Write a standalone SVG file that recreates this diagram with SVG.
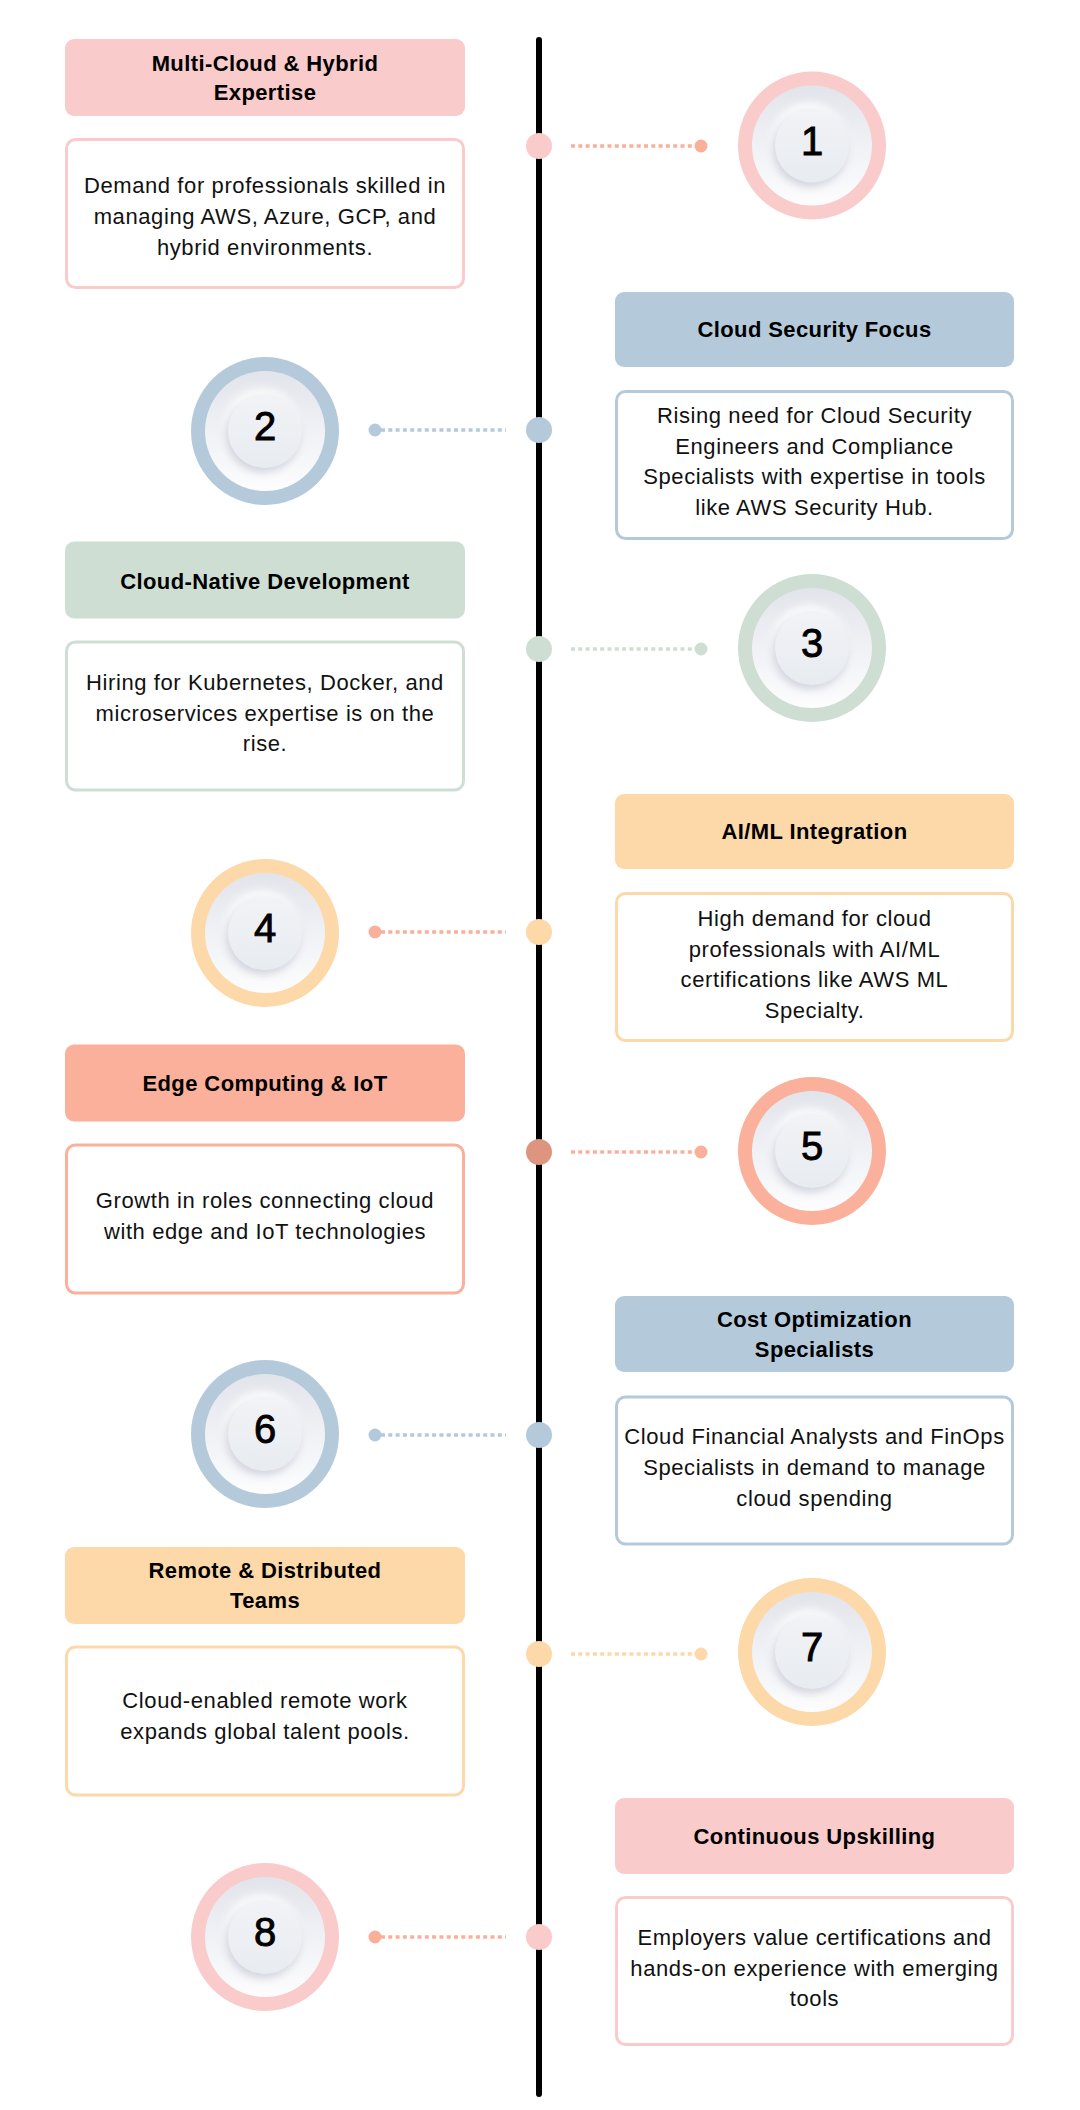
<svg xmlns="http://www.w3.org/2000/svg" width="1080" height="2110" viewBox="0 0 1080 2110">
<defs>
<style>
.title{font-family:"Liberation Sans",Arial,sans-serif;font-weight:bold;font-size:22px;letter-spacing:0.4px;fill:#000;text-anchor:middle}
.body{font-family:"Liberation Sans",Arial,sans-serif;font-size:22px;letter-spacing:0.6px;fill:#111;text-anchor:middle}
.num{font-family:"Liberation Sans",Arial,sans-serif;font-size:40px;fill:#000;stroke:#000;stroke-width:0.9px;text-anchor:middle}
.tb{stroke-width:3;fill:#fff}
.conn{stroke-width:3.5;stroke-dasharray:4 3.3;fill:none}
</style>
<linearGradient id="discGrad" x1="0" y1="0" x2="0" y2="1">
<stop offset="0" stop-color="#E2E4EB"/>
<stop offset="0.45" stop-color="#EEF0F4"/>
<stop offset="1" stop-color="#FDFDFE"/>
</linearGradient>
<linearGradient id="coreGrad" x1="0" y1="0" x2="0" y2="1">
<stop offset="0" stop-color="#F1F3F6"/>
<stop offset="1" stop-color="#E8EBF0"/>
</linearGradient>
<filter id="blur" x="-50%" y="-50%" width="200%" height="200%">
<feGaussianBlur stdDeviation="4"/>
</filter>
<g id="knob">
<circle r="60" fill="url(#discGrad)"/>
<circle cx="-3" cy="-5" r="37" fill="#FFFFFF" filter="url(#blur)"/>
<circle cx="-2" cy="4" r="37" fill="#D0D1DD" filter="url(#blur)"/>
<circle r="37" fill="url(#coreGrad)"/>
</g>
</defs>
<rect width="1080" height="2110" fill="#FFFFFF"/>

<g id="timeline">
<line x1="539" y1="40" x2="539" y2="2094" stroke="#000" stroke-width="6" stroke-linecap="round"/>
</g>

<g id="connectors">
<line class="conn" x1="571" y1="146" x2="696" y2="146" stroke="#F9B09B"/>
<circle cx="701" cy="146" r="6.5" fill="#F9B09B"/>
<line class="conn" x1="381" y1="430" x2="506" y2="430" stroke="#B4CADA"/>
<circle cx="375" cy="430" r="6.5" fill="#B4CADA"/>
<line class="conn" x1="571" y1="649" x2="696" y2="649" stroke="#CEDED3"/>
<circle cx="701" cy="649" r="6.5" fill="#CEDED3"/>
<line class="conn" x1="381" y1="932" x2="506" y2="932" stroke="#F9B09B"/>
<circle cx="375" cy="932" r="6.5" fill="#F9B09B"/>
<line class="conn" x1="571" y1="1152" x2="696" y2="1152" stroke="#F9B09B"/>
<circle cx="701" cy="1152" r="6.5" fill="#F9B09B"/>
<line class="conn" x1="381" y1="1435" x2="506" y2="1435" stroke="#B4CADA"/>
<circle cx="375" cy="1435" r="6.5" fill="#B4CADA"/>
<line class="conn" x1="571" y1="1654" x2="696" y2="1654" stroke="#FDD8A8"/>
<circle cx="701" cy="1654" r="6.5" fill="#FDD8A8"/>
<line class="conn" x1="381" y1="1937" x2="506" y2="1937" stroke="#F9B09B"/>
<circle cx="375" cy="1937" r="6.5" fill="#F9B09B"/>
</g>

<g id="item1">
<rect x="65" y="39" width="400" height="77" rx="9" fill="#F9CBCA"/>
<text class="title" x="265" y="70.5">Multi-Cloud &amp; Hybrid</text>
<text class="title" x="265" y="100">Expertise</text>
<rect class="tb" x="66.5" y="139.5" width="397" height="148" rx="9" stroke="#F9CBCA"/>
<text class="body" x="265" y="193">Demand for professionals skilled in</text>
<text class="body" x="265" y="224">managing AWS, Azure, GCP, and</text>
<text class="body" x="265" y="255">hybrid environments.</text>
<circle cx="539" cy="146" r="13" fill="#F9CBCA"/>
<circle cx="812" cy="145.5" r="74" fill="#F9CBCA"/>
<use href="#knob" x="812" y="145.5"/>
<text class="num" x="812" y="154.5">1</text>
</g>

<g id="item2">
<rect x="615" y="292" width="399" height="75" rx="9" fill="#B4CADA"/>
<text class="title" x="814.5" y="336.5">Cloud Security Focus</text>
<rect class="tb" x="616.5" y="391.5" width="396" height="147" rx="9" stroke="#B4CADA"/>
<text class="body" x="814.5" y="423">Rising need for Cloud Security</text>
<text class="body" x="814.5" y="453.5">Engineers and Compliance</text>
<text class="body" x="814.5" y="484">Specialists with expertise in tools</text>
<text class="body" x="814.5" y="514.5">like AWS Security Hub.</text>
<circle cx="539" cy="430" r="13" fill="#B4CADA"/>
<circle cx="265" cy="431" r="74" fill="#B4CADA"/>
<use href="#knob" x="265" y="431"/>
<text class="num" x="265" y="440">2</text>
</g>

<g id="item3">
<rect x="65" y="541.5" width="400" height="77" rx="9" fill="#CEDED3"/>
<text class="title" x="265" y="588.5">Cloud-Native Development</text>
<rect class="tb" x="66.5" y="642" width="397" height="148" rx="9" stroke="#CEDED3"/>
<text class="body" x="265" y="689.5">Hiring for Kubernetes, Docker, and</text>
<text class="body" x="265" y="720.5">microservices expertise is on the</text>
<text class="body" x="265" y="751">rise.</text>
<circle cx="539" cy="649" r="13" fill="#CEDED3"/>
<circle cx="812" cy="648" r="74" fill="#CEDED3"/>
<use href="#knob" x="812" y="648"/>
<text class="num" x="812" y="657">3</text>
</g>

<g id="item4">
<rect x="615" y="794" width="399" height="75" rx="9" fill="#FDD8A8"/>
<text class="title" x="814.5" y="838.5">AI/ML Integration</text>
<rect class="tb" x="616.5" y="893.5" width="396" height="147" rx="9" stroke="#FDD8A8"/>
<text class="body" x="814.5" y="926">High demand for cloud</text>
<text class="body" x="814.5" y="956.5">professionals with AI/ML</text>
<text class="body" x="814.5" y="987">certifications like AWS ML</text>
<text class="body" x="814.5" y="1017.5">Specialty.</text>
<circle cx="539" cy="932" r="13" fill="#FDD8A8"/>
<circle cx="265" cy="933" r="74" fill="#FDD8A8"/>
<use href="#knob" x="265" y="933"/>
<text class="num" x="265" y="942">4</text>
</g>

<g id="item5">
<rect x="65" y="1044.5" width="400" height="77" rx="9" fill="#FBB09B"/>
<text class="title" x="265" y="1091">Edge Computing &amp; IoT</text>
<rect class="tb" x="66.5" y="1145" width="397" height="148" rx="9" stroke="#FBB09B"/>
<text class="body" x="265" y="1207.5">Growth in roles connecting cloud</text>
<text class="body" x="265" y="1239">with edge and IoT technologies</text>
<circle cx="539" cy="1152" r="13" fill="#DE9580"/>
<circle cx="812" cy="1151" r="74" fill="#FBB09B"/>
<use href="#knob" x="812" y="1151"/>
<text class="num" x="812" y="1160">5</text>
</g>

<g id="item6">
<rect x="615" y="1296" width="399" height="76" rx="9" fill="#B4CADA"/>
<text class="title" x="814.5" y="1326.5">Cost Optimization</text>
<text class="title" x="814.5" y="1356.5">Specialists</text>
<rect class="tb" x="616.5" y="1397" width="396" height="147" rx="9" stroke="#B4CADA"/>
<text class="body" x="814.5" y="1444" letter-spacing="0.3">Cloud Financial Analysts and FinOps</text>
<text class="body" x="814.5" y="1475">Specialists in demand to manage</text>
<text class="body" x="814.5" y="1505.5">cloud spending</text>
<circle cx="539" cy="1435" r="13" fill="#B4CADA"/>
<circle cx="265" cy="1434" r="74" fill="#B4CADA"/>
<use href="#knob" x="265" y="1434"/>
<text class="num" x="265" y="1443">6</text>
</g>

<g id="item7">
<rect x="65" y="1547" width="400" height="77" rx="9" fill="#FDD8A8"/>
<text class="title" x="265" y="1578">Remote &amp; Distributed</text>
<text class="title" x="265" y="1607.5">Teams</text>
<rect class="tb" x="66.5" y="1647" width="397" height="148" rx="9" stroke="#FDD8A8"/>
<text class="body" x="265" y="1707.5">Cloud-enabled remote work</text>
<text class="body" x="265" y="1738.5">expands global talent pools.</text>
<circle cx="539" cy="1654" r="13" fill="#FDD8A8"/>
<circle cx="812" cy="1652" r="74" fill="#FDD8A8"/>
<use href="#knob" x="812" y="1652"/>
<text class="num" x="812" y="1661">7</text>
</g>

<g id="item8">
<rect x="615" y="1798" width="399" height="76" rx="9" fill="#F9CBCA"/>
<text class="title" x="814.5" y="1844">Continuous Upskilling</text>
<rect class="tb" x="616.5" y="1897.5" width="396" height="147" rx="9" stroke="#F9CBCA"/>
<text class="body" x="814.5" y="1944.5">Employers value certifications and</text>
<text class="body" x="814.5" y="1975.5">hands-on experience with emerging</text>
<text class="body" x="814.5" y="2006">tools</text>
<circle cx="539" cy="1937" r="13" fill="#F9CBCA"/>
<circle cx="265" cy="1937" r="74" fill="#F9CBCA"/>
<use href="#knob" x="265" y="1937"/>
<text class="num" x="265" y="1946">8</text>
</g>
</svg>
